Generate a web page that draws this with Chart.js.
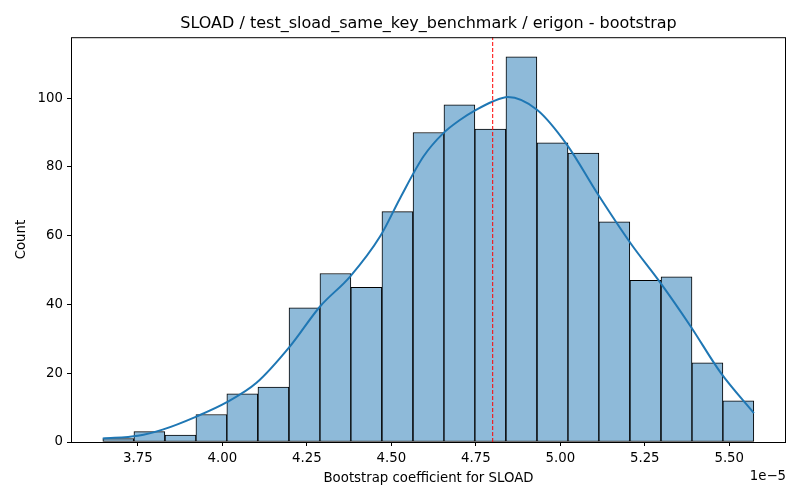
<!DOCTYPE html>
<html>
<head>
<meta charset="utf-8">
<script src="https://cdn.jsdelivr.net/npm/chart.js@4/dist/chart.umd.min.js"></script>
<style>
  html, body { margin: 0; padding: 0; background: #fff; }
</style>
</head>
<body>
<canvas id="myChart" width="800" height="500"></canvas>
<script>
// histogram bins (values in units of 1e-5)
const binEdges = [3.646, 3.738, 3.830, 3.922, 4.013, 4.105, 4.197, 4.289, 4.380, 4.472, 4.564,
                  4.656, 4.747, 4.839, 4.931, 5.023, 5.114, 5.206, 5.298, 5.390, 5.481, 5.573];
const counts = [1, 3, 2, 8, 14, 16, 39, 49, 45, 67, 90, 98, 91, 112, 87, 84, 64, 47, 48, 23, 12];

// kde curve
const kdeX = [3.646, 3.750, 3.823, 3.923, 4.012, 4.101, 4.200, 4.289, 4.378, 4.467, 4.526, 4.595,
              4.654, 4.704, 4.748, 4.800, 4.845, 4.931, 5.020, 5.109, 5.208, 5.297, 5.386, 5.475, 5.573];
const kdeY = [1.0, 1.8, 3.6, 7.4, 11.5, 17.2, 27.8, 39.4, 48.1, 59.8, 70.9, 83.0,
              89.8, 93.7, 96.4, 99.0, 100.3, 96.6, 86.4, 72.4, 57.8, 46.2, 33.6, 20.1, 8.4];

const meanValue = 4.80;
const xTicks = [3.75, 4.00, 4.25, 4.50, 4.75, 5.00, 5.25, 5.50];
const yTicks = [0, 20, 40, 60, 80, 100];
const xMin = 3.552, xMax = 5.668;
const yMin = 0, yMax = 117.7;

const titleText = 'SLOAD / test_sload_same_key_benchmark / erigon - bootstrap';
const xLabel = 'Bootstrap coefficient for SLOAD';
const yLabel = 'Count';
const offsetLabel = '1e\u22125';

const font = 'DejaVu Sans';
Chart.defaults.font.family = font;
Chart.defaults.color = '#000';

let bars = [];
for (let i = 0; i < counts.length; i++) {
    bars.push({ x: (binEdges[i] + binEdges[i + 1]) / 2, y: counts[i] });
}
let kde = kdeX.map((v, i) => ({ x: v, y: kdeY[i] }));
let vline = [{ x: meanValue, y: yMin }, { x: meanValue, y: yMax }];

const frame = {
    id: 'frame',
    afterDraw(chart) {
        const c = chart.ctx, a = chart.chartArea;
        c.save();
        c.strokeStyle = '#000';
        c.lineWidth = 1;
        c.strokeRect(a.left + 0.5, a.top + 0.5, a.right - a.left - 1, a.bottom - a.top);
        c.font = '13.3px ' + font;
        c.fillStyle = '#000';
        c.textAlign = 'right';
        c.textBaseline = 'middle';
        c.fillText(offsetLabel, a.right, 477);
        c.restore();
    }
};

var ctx = document.getElementById('myChart').getContext('2d');
var myChart = new Chart(ctx, {
    type: 'bar',
    data: {
        datasets: [{
            type: 'bar',
            data: bars,
            backgroundColor: '#8ebad9',
            borderColor: '#000',
            borderWidth: 1,
            borderSkipped: false,
            barPercentage: 1,
            categoryPercentage: 1,
            order: 3
        },
        {
            type: 'line',
            data: kde,
            borderColor: '#1f77b4',
            borderWidth: 2,
            pointRadius: 0,
            cubicInterpolationMode: 'monotone',
            fill: false,
            order: 2
        },
        {
            type: 'line',
            data: vline,
            borderColor: '#ff0000',
            borderWidth: 1,
            borderDash: [4, 2],
            pointRadius: 0,
            fill: false,
            order: 1
        }]
    },
    options: {
        responsive: false,
        animation: false,
        layout: { padding: { left: 0, right: 14, top: 0, bottom: 0 } },
        plugins: {
            legend: { display: false },
            tooltip: { enabled: false },
            title: {
                display: true,
                fullSize: false,
                text: titleText,
                font: { size: 16, weight: 'normal', family: font },
                color: '#000',
                padding: { top: 14, bottom: 4 }
            }
        },
        scales: {
            x: {
                type: 'linear',
                min: xMin,
                max: xMax,
                offset: false,
                afterBuildTicks: (s) => { s.ticks = xTicks.map(v => ({ value: v })); },
                afterFit: (s) => { s.height = 58; },
                grid: { display: true, offset: false, drawOnChartArea: false, drawTicks: true, tickLength: 4, tickColor: '#000' },
                border: { display: false },
                ticks: {
                    maxRotation: 0,
                    autoSkip: false,
                    padding: 5,
                    font: { size: 13.3 },
                    callback: (v) => Number(v).toFixed(2)
                },
                title: {
                    display: true,
                    text: xLabel,
                    font: { size: 13.3 },
                    padding: { top: 0, bottom: 13 }
                }
            },
            y: {
                min: yMin,
                max: yMax,
                afterBuildTicks: (s) => { s.ticks = yTicks.map(v => ({ value: v })); },
                afterFit: (s) => { s.width = 71; },
                grid: { display: true, drawOnChartArea: false, drawTicks: true, tickLength: 4, tickColor: '#000' },
                border: { display: false },
                ticks: {
                    padding: 4,
                    font: { size: 13.3 }
                },
                title: {
                    display: true,
                    text: yLabel,
                    font: { size: 13.3 },
                    padding: { top: 14, bottom: 0 }
                }
            }
        }
    },
    plugins: [frame]
});
</script>
</body>
</html>
